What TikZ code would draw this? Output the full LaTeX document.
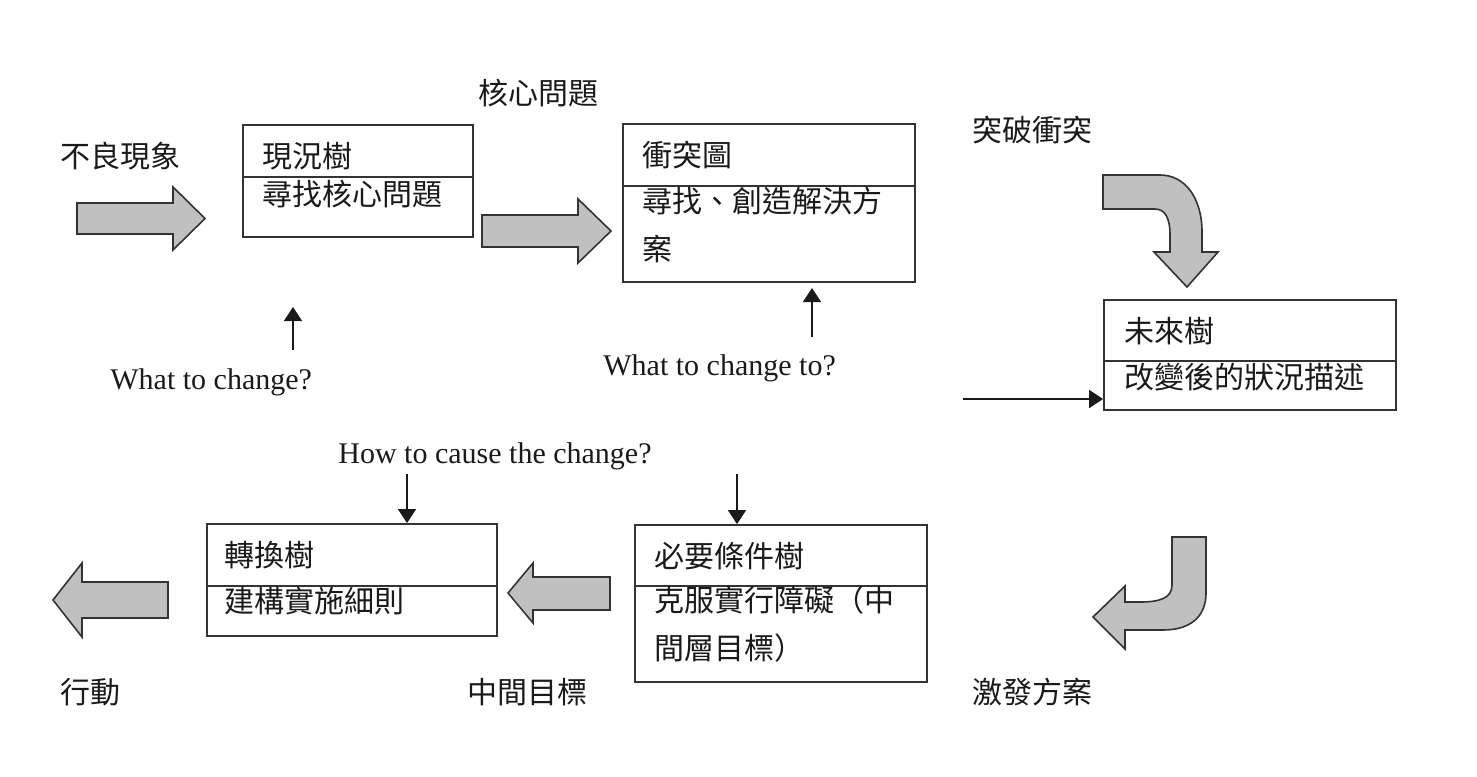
\documentclass[tikz,border=0pt]{standalone}
\usepackage{fontspec}
\setmainfont{Liberation Serif}
\newfontfamily\cjk{Noto Sans CJK TC}
\usepackage{tikz}
\usetikzlibrary{positioning,arrows.meta}
\definecolor{ink}{HTML}{1A1A1A}
\definecolor{edge}{HTML}{333333}
\definecolor{shade}{HTML}{C0C0C0}

\begin{document}
\begin{tikzpicture}[x=0.5pt,y=-0.5pt,
  box/.style={draw=edge,line width=0.9pt,inner sep=0pt},
  ttl/.style={anchor=base west,inner sep=0pt,font=\cjk\fontsize{15}{24}\selectfont,text=ink},
  body/.style={ttl,text width=#1,align=left},
  lbl/.style={anchor=west,inner sep=0pt,font=\cjk\fontsize{15}{18}\selectfont,text=ink},
  eng/.style={anchor=base west,inner sep=0pt,font=\fontsize{15}{18}\selectfont,text=ink},
  fat/.style={fill=shade,draw=edge,line width=0.8pt},
  arr/.style={-{Triangle[length=7pt,width=9pt]},draw=ink,line width=0.75pt}]
\useasboundingbox (0,0) rectangle (1477,776);
% the five trees
\node[box,minimum width=115pt,minimum height=56pt] (crt) at (358,181) {};
\node[box,minimum width=146pt,minimum height=79pt] (cloud) at (769,203) {};
\node[box,minimum width=146pt,minimum height=55pt] (frt) at (1250,355) {};
\node[box,minimum width=146pt,minimum height=78.5pt] (prt) at (781,603.5) {};
\node[box,minimum width=145pt,minimum height=56pt] (trt) at (352,580) {};
\draw[box] ([yshift=-26.5pt]crt.north west) -- ([yshift=-26.5pt]crt.north east);
\draw[box] ([yshift=-31.5pt]cloud.north west) -- ([yshift=-31.5pt]cloud.north east);
\draw[box] ([yshift=-31pt]frt.north west) -- ([yshift=-31pt]frt.north east);
\draw[box] ([yshift=-31pt]prt.north west) -- ([yshift=-31pt]prt.north east);
\draw[box] ([yshift=-31.5pt]trt.north west) -- ([yshift=-31.5pt]trt.north east);
\node[ttl] (crt-t) at ([shift={(20,43)}]crt.north west) {現況樹};
\node[body=120pt] (crt-b) at ([shift={(20,81)}]crt.north west) {尋找核心問題};
\node[ttl] (cloud-t) at ([shift={(20,43)}]cloud.north west) {衝突圖};
\node[body=130pt] (cloud-b) at ([shift={(20,89)}]cloud.north west) {尋找、創造解決方\\案};
\node[ttl] (frt-t) at ([shift={(21,43)}]frt.north west) {未來樹};
\node[body=130pt] (frt-b) at ([shift={(21,89)}]frt.north west) {改變後的狀況描述};
\node[ttl] (prt-t) at ([shift={(20,43)}]prt.north west) {必要條件樹};
\node[body=130pt] (prt-b) at ([shift={(20,87)}]prt.north west) {克服實行障礙（中\\間層目標）};
\node[ttl] (trt-t) at ([shift={(18,43)}]trt.north west) {轉換樹};
\node[body=130pt] (trt-b) at ([shift={(18,89)}]trt.north west) {建構實施細則};
% outside labels
\node[lbl] (bad) at (60,156) {不良現象};
\node[lbl] (core) at (478,93) {核心問題};
\node[lbl] (breakc) at (972,130) {突破衝突};
\node[lbl] (act) at (60,692) {行動};
\node[lbl] (mid) at (467,692) {中間目標};
\node[lbl] (spark) at (972,692) {激發方案};
\node[eng] (q1) at (110,389) {What to change?};
\node[eng] (q2) at (603,375) {What to change to?};
\node[eng] (q3) at (338,463) {How to cause the change?};
% thin arrows
\coordinate (up1) at (293,350); \coordinate (up1e) at (293,307);
\coordinate (up2) at (812,337); \coordinate (up2e) at (812,288);
\coordinate (dn1) at (407,474); \coordinate (dn2) at (737,474);
\coordinate (in3) at (963,399);
\draw[arr] (up1)--(up1e); \draw[arr] (up2)--(up2e);
\draw[arr] (dn1)--(dn1 |- trt.north); \draw[arr] (dn2)--(dn2 |- prt.north);
\draw[arr] (in3)--(in3 -| frt.west);
% block arrows
\draw[fat] (77,203)--(173,203)--(173,187)--(205,218.5)--(173,250)--(173,234)--(77,234)--cycle;
\draw[fat] (482,215)--(578,215)--(578,199)--(611,231)--(578,263)--(578,247)--(482,247)--cycle;
\draw[fat] (610,577)--(533,577)--(533,563)--(508,593)--(533,623)--(533,610)--(610,610)--cycle;
\draw[fat] (168,582)--(82,582)--(82,563)--(53,600)--(82,637)--(82,618)--(168,618)--cycle;
\draw[fat] (1103,175)--(1160,175) .. controls (1185,175) and (1202,198) .. (1202,232)--(1202,252)--(1218,252)--(1187,287)--(1154,252)--(1170,252)--(1170,235) .. controls (1170,218) and (1165,209) .. (1155,209)--(1103,209)--cycle;
\draw[fat] (1172,537)--(1206,537)--(1206,593) .. controls (1206,617) and (1190,630) .. (1163,630)--(1125,630)--(1125,649)--(1093,617)--(1125,586)--(1125,602)--(1140,602) .. controls (1160,602) and (1172,598) .. (1172,585)--cycle;
\end{tikzpicture}
\end{document}
